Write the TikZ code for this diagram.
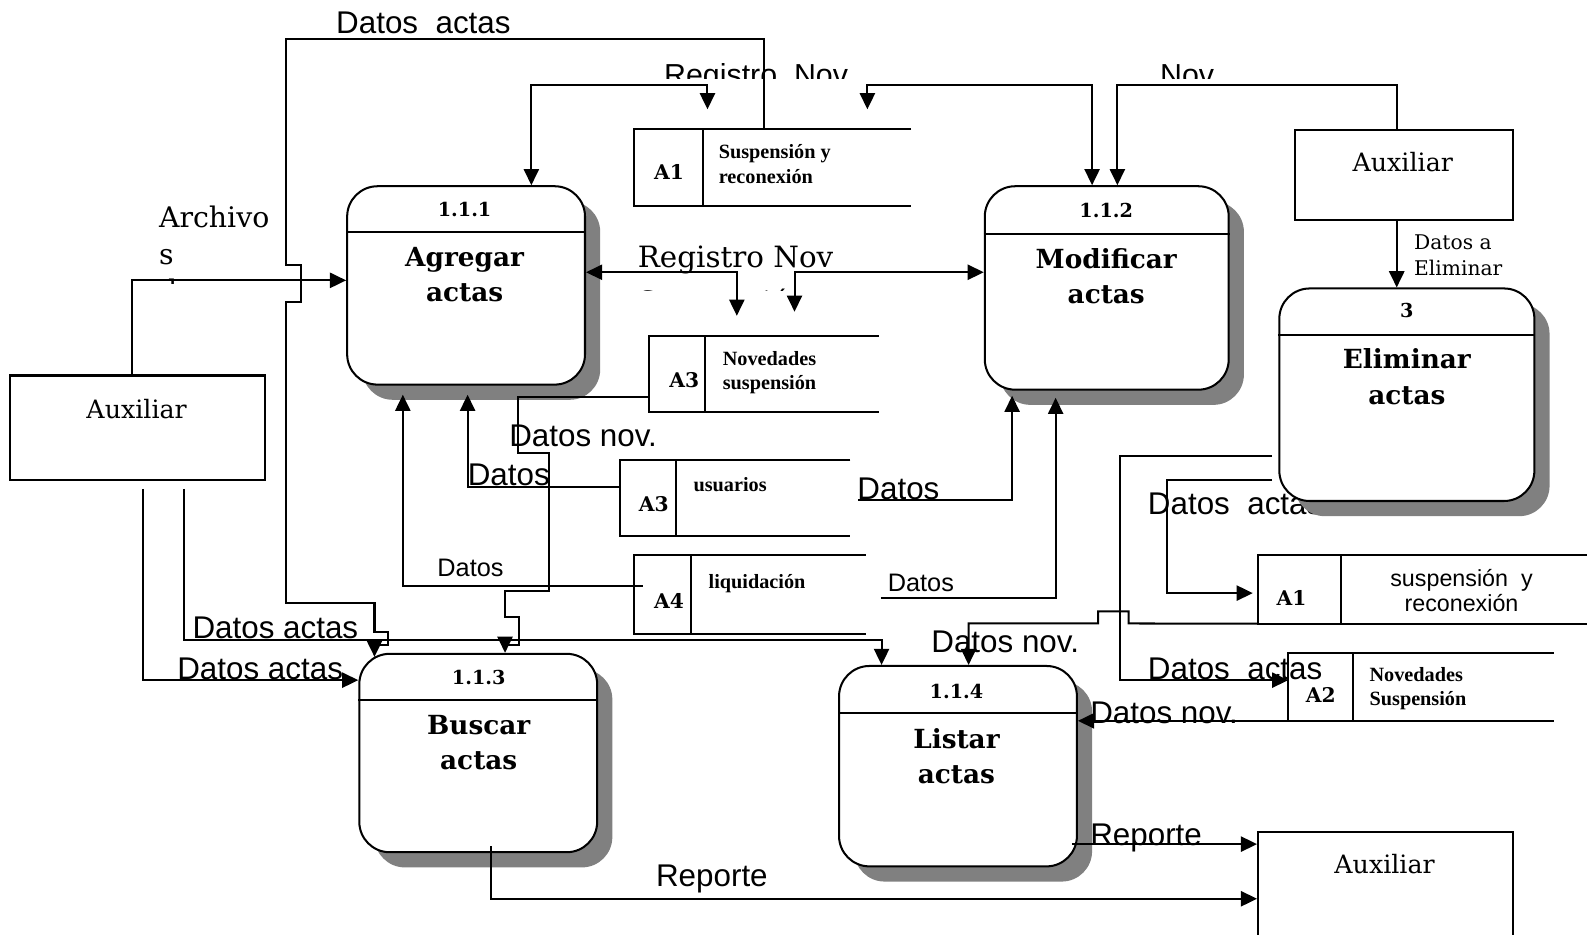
\documentclass[tikz,border=0pt]{standalone}
\usepackage{fontspec}
\usetikzlibrary{arrows.meta,shadows}
\newfontfamily\sansf{Liberation Sans}
\newfontfamily\serf{DejaVu Serif}
\newfontfamily\timesf{Liberation Serif}
\definecolor{shadowgray}{HTML}{808080}

\tikzset{
  ln/.style={line width=2pt, line join=miter},
  arr/.style={-{Triangle[length=16pt,width=15pt]}},
  arrB/.style={{Triangle[length=16pt,width=15pt]}-{Triangle[length=16pt,width=15pt]}},
  proc/.style={draw, line width=2pt, fill=white, rounded corners=30pt,
    drop shadow={shadow xshift=15pt, shadow yshift=-15pt, fill=shadowgray, opacity=1}},
  ext/.style={draw, line width=2pt, fill=white},
  store/.style={inner sep=0pt},
  pnum/.style={inner sep=0pt, font=\serf\bfseries\fontsize{19}{22}\selectfont},
  ptitle/.style={inner sep=0pt, align=center, font=\serf\bfseries\fontsize{26}{35}\selectfont},
  sid/.style={inner sep=0pt, font=\serf\bfseries\fontsize{20}{24}\selectfont},
  sname/.style={inner sep=0pt, anchor=base west, font=\timesf\bfseries\fontsize{20}{24}\selectfont},
  extlab/.style={inner sep=0pt, font=\serf\fontsize{25}{30}\selectfont},
  lab/.style={inner sep=0pt, anchor=base west, font=\sansf\fontsize{31}{36}\selectfont},
  labS/.style={inner sep=0pt, anchor=base west, font=\sansf\fontsize{25}{30}\selectfont},
  serl/.style={inner sep=0pt, anchor=base west, font=\serf\fontsize{29}{34}\selectfont},
  serA/.style={inner sep=0pt, anchor=base west, font=\serf\fontsize{28}{34}\selectfont},
  serS/.style={inner sep=0pt, anchor=base west, font=\serf\fontsize{20}{24}\selectfont},
}

% open-ended data store: left side, top and bottom lines, and the id divider
\newcommand\drawstore[2]{%
  \draw[ln] (#1.north east) -- (#1.north west) -- (#1.south west) -- (#1.south east);
  \draw[ln] (#1.north -| #2,0) -- (#1.south -| #2,0);}

\begin{document}
\begin{tikzpicture}[x=1pt,y=-1pt]
\useasboundingbox (0,0) rectangle (1568,923);
\fill[white] (0,0) rectangle (1568,923);

% label partly hidden under the shadow of process 3
\node[lab] (lDA3) at (1134,508) {Datos~~actas};

% ---- processes ----
\node[proc, minimum width=235, minimum height=196] (p111) at (460.5,282) {};
\node[proc, minimum width=241, minimum height=201] (p112) at (1093.5,284.5) {};
\node[proc, minimum width=235, minimum height=196] (p113) at (472.5,744) {};
\node[proc, minimum width=235, minimum height=198] (p114) at (946.5,757) {};
\node[proc, minimum width=252, minimum height=210] (p3) at (1390,390) {};

\draw[ln] (p111.west |- 0,229) -- (p111.east |- 0,229);
\draw[ln] (p112.west |- 0,231) -- (p112.east |- 0,231);
\draw[ln] (p113.west |- 0,692) -- (p113.east |- 0,692);
\draw[ln] (p114.west |- 0,704) -- (p114.east |- 0,704);
\draw[ln] (p3.west |- 0,331) -- (p3.east |- 0,331);

\node[pnum] (n111) at (459,207) {1.1.1};
\node[pnum] (n112) at (1093,208) {1.1.2};
\node[pnum] (n113) at (473,669) {1.1.3};
\node[pnum] (n114) at (945,683) {1.1.4};
\node[pnum] (n3) at (1390,307) {3};

\node[ptitle] (t111) at (459,271.5) {Agregar\\actas};
\node[ptitle] (t112) at (1093,273) {Modificar\\actas};
\node[ptitle] (t113) at (473,733.5) {Buscar\\actas};
\node[ptitle] (t114) at (945,747) {Listar\\actas};
\node[ptitle] (t3) at (1390,372) {Eliminar\\actas};

% ---- external entities ----
\node[ext, minimum width=252, minimum height=103] (extL) at (136,422.5) {};
\node[ext, minimum width=216, minimum height=89] (extTR) at (1387,172.5) {};
\node[ext, minimum width=252, minimum height=123] (extBR) at (1369,883.5) {};
\node[extlab] (xL) at (135,404) {Auxiliar};
\node[extlab] (xTR) at (1386,160) {Auxiliar};
\node[extlab] (xBR) at (1368,854) {Auxiliar};

% ---- data stores ----
\node[store, minimum width=273, minimum height=75] (dA1) at (763.5,165.5) {};
\node[store, minimum width=227, minimum height=75] (dA3n) at (754.5,369.5) {};
\node[store, minimum width=227, minimum height=74] (dA3u) at (726.5,492) {};
\node[store, minimum width=228, minimum height=77] (dA4) at (741,587.5) {};
\node[store, minimum width=330, minimum height=67] (dA1r) at (1408,582.5) {};
\node[store, minimum width=262, minimum height=67] (dA2) at (1404,678.5) {};
\drawstore{dA1}{695}
\drawstore{dA3n}{697}
\drawstore{dA3u}{668}
\drawstore{dA4}{683}
\drawstore{dA1r}{1325}
\drawstore{dA2}{1337}

\node[sid] (iA1) at (661,170) {A1};
\node[sname] (sA1a) at (710,157) {Suspensión y};
\node[sname] (sA1b) at (710,181) {reconexión};
\node[sid] (iA3n) at (676,376) {A3};
\node[sname] (sA3a) at (714,361) {Novedades};
\node[sname] (sA3b) at (714,385) {suspensión};
\node[sid] (iA3u) at (646,498) {A3};
\node[sname] (sA3u) at (685,486) {usuarios};
\node[sid] (iA4) at (661,594) {A4};
\node[sname] (sA4) at (700,581) {liquidación};
\node[sid] (iA1r) at (1276,591) {A1};
\node[inner sep=0pt, anchor=base, font=\sansf\fontsize{23}{25}\selectfont] (sA1ra) at (1444,579) {suspensión~~y};
\node[inner sep=0pt, anchor=base, font=\sansf\fontsize{23}{25}\selectfont] (sA1rb) at (1444,604) {reconexión};
\node[sid] (iA2) at (1305,687) {A2};
\node[sname] (sA2a) at (1353,673) {Novedades};
\node[sname] (sA2b) at (1353,697) {Suspensión};

% ---- data flows ----
\draw[ln, arr, shorten >=-4pt] (dA1.north -| 755,0) -- (755,39) -- (283,39) -- (283,262)
  -- (297,262) -- (297,298) -- (283,298) -- (283,596) -- (370,596) -- (370,624)
  -- (383,624) -- (383,637) -- (370,637) -- (p113.north -| 370,0);
\draw[ln, arr] (extL.north -| 130,0) -- (130,277) -- (p111.west |- 0,277);

\coordinate (rA) at (699,108);
\coordinate (rB) at (857,108);
\draw[ln, arrB] (rA) -- (699,84) -- (525,84) -- (p111.north -| 525,0);
\draw[ln, arrB] (rB) -- (857,84) -- (1079,84) -- (p112.north -| 1079,0);
\draw[ln, arr] (extTR.north -| 1380,0) -- (1380,84) -- (1104,84) -- (p112.north -| 1104,0);
\draw[ln, arr] (extTR.south -| 1380,0) -- (p3.north -| 1380,0);

\coordinate (rC) at (728,312);
\coordinate (rD) at (785,308);
\draw[ln, arrB] (rC) -- (728,269) -- (p111.east |- 0,269);
\draw[ln, arrB] (rD) -- (785,269) -- (p112.west |- 0,269);

\draw[ln, arr] (dA3n.west |- 0,392) -- (512,392) -- (512,448) -- (542,448) -- (542,584)
  -- (499,584) -- (499,610) -- (513,610) -- (513,637) -- (499,637) -- (p113.north -| 499,0);
\draw[ln, arr, shorten >=9pt] (dA3u.west |- 0,481) -- (462,481) -- (p111.south -| 462,0);
\draw[ln, arr, shorten <=-8pt, shorten >=9pt] (dA4.west |- 0,579) -- (398,579) -- (p111.south -| 398,0);
\draw[ln, arr, shorten <=8pt, shorten >=5pt] (dA3u.east |- 0,494) -- (1000,494) -- (p112.south -| 1000,0);
\draw[ln, arr, shorten <=15pt, shorten >=7pt] (dA4.east |- 0,591) -- (1043,591) -- (p112.south -| 1043,0);

\draw[ln, arr, shorten <=8pt] (extL.south -| 141,0) -- (141,672) -- (p113.west |- 0,672);
\draw[ln, arr, shorten <=8pt] (extL.south -| 182,0) -- (182,632) -- (871,632) -- (p114.north -| 871,0);
\draw[ln, arr, shorten <=-7pt] (p113.south -| 485,0) -- (485,888) -- (extBR.west |- 0,888);
\draw[ln, arr, shorten <=-6pt] (p114.east |- 0,834) -- (extBR.west |- 0,834);

\draw[ln, arr, shorten <=6pt] (p3.west |- 0,451) -- (1107,451) -- (1107,672) -- (dA2.west |- 0,672);
\draw[ln, arr, shorten <=6pt, shorten >=5pt] (p3.west |- 0,474) -- (1153,474) -- (1153,586) -- (dA1r.west |- 0,586);
\draw[ln, arr] (dA1r.south west) -- (1115,616) -- (1115,604) -- (1085,604) -- (1085,616)
  -- (957,616) -- (p114.north -| 957,0);
\draw[ln, arr] (dA2.south west) -- (p114.east |- dA2.south west);

% ---- flow labels ----
\node[lab] (lTop) at (332,33) {Datos~~actas};
\begin{scope}
  \clip (600,40) rectangle (1250,78);
  \node[lab, font=\sansf\fontsize{30}{36}\selectfont] (lRegTop) at (656,84) {Registro~~Nov};
  \node[lab, font=\sansf\fontsize{30}{36}\selectfont] (lNov) at (1146,84) {Nov};
\end{scope}
\node[serA] (lArc1) at (157,225) {Archivo};
\node[serA] (lArc2) at (157,261) {s};
\begin{scope}
  \clip (140,265) rectangle (280,280);
  \node[serA] (lArc3) at (157,297) {de};
\end{scope}
\node[serl] (lReg1) at (630,264) {Registro Nov};
\begin{scope}
  \clip (600,272) rectangle (900,287);
  \node[serl] (lReg2) at (630,309) {Suspensión};
\end{scope}
\node[serS] (lEl1) at (1397,247) {Datos a};
\node[serS] (lEl2) at (1397,272) {Eliminar};

\node[lab] (lNv1) at (503,441) {Datos nov.};
\node[lab] (lD1) at (462,480) {Datos};
\node[labS] (lD2) at (432,570) {Datos};
\node[lab] (lD3) at (847,494) {Datos};
\node[labS] (lD4) at (877,584) {Datos};
\node[lab] (lDA1) at (190,631) {Datos actas};
\node[lab] (lDA2) at (175,671) {Datos actas};
\node[lab] (lNv2) at (920,645) {Datos nov.};
\node[lab] (lDA4) at (1134,671) {Datos~~actas};
\node[lab] (lNv3) at (1077,715) {Datos nov.};
\node[lab] (lRep1) at (1077,835) {Reporte};
\node[lab] (lRep2) at (648,876) {Reporte};
\end{tikzpicture}
\end{document}
